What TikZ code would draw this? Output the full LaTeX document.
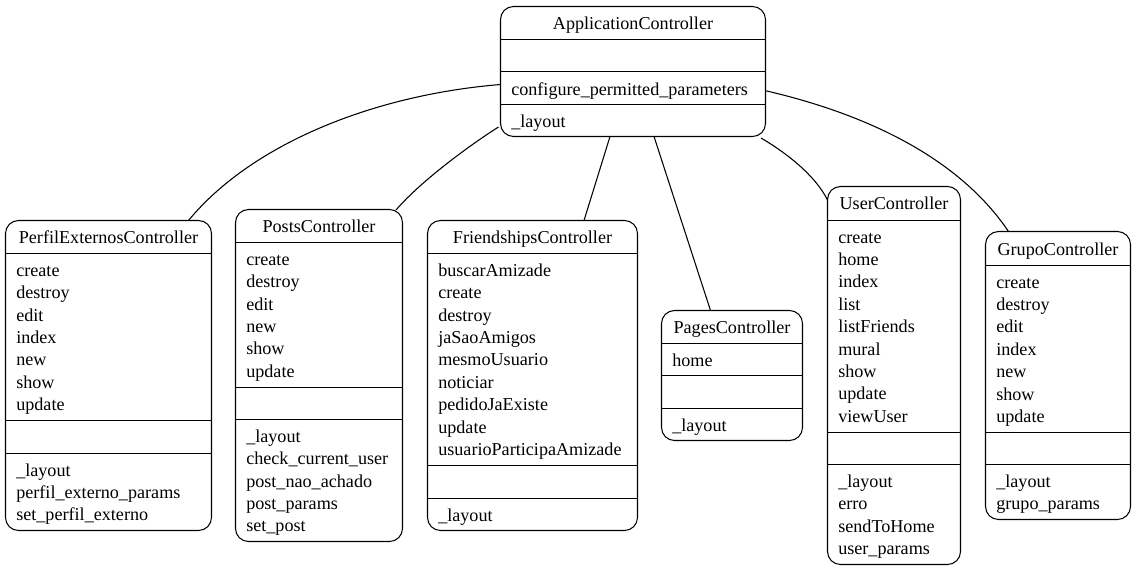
\documentclass[tikz,border=0pt]{standalone}
\usepackage{fontspec}
\setmainfont{Liberation Serif}
\usetikzlibrary{calc}
\tikzset{
  box/.style={draw, line width=0.8pt, rounded corners=9.75pt, inner sep=0pt, outer sep=0pt, fill=white},
  sepline/.style={line width=0.8pt},
  edge/.style={line width=0.8pt},
  lbl/.style={inner sep=0pt, font=\fontsize{13.6pt}{16.8pt}\selectfont},
}
\newcommand\ubox[5]{\node[box, anchor=north west, minimum width={(#4-#2)*0.75pt}, minimum height={(#5-#3)*0.75pt}] (#1) at (#2,#3) {};}
\newcommand\usep[3]{\draw[sepline] (#1,#3) -- (#2,#3);}
\newcommand\utitle[4]{\node[lbl, anchor=base] (#1) at (#2,#3) {#4};}
\newcommand\ulines[4]{\foreach \txt [count=\i] in {#4} {\node[lbl, anchor=base west] (#1-\i) at (#2,{#3+(\i-1)*22.4}) {\txt};}}
\begin{document}
\begin{tikzpicture}[x=0.75pt, y=-0.75pt]
\useasboundingbox (0,0) rectangle (1136,571);
\fill[white] (0,0) rectangle (1136,571);

% ApplicationController
\ubox{app}{500.5}{6.5}{765.5}{136.5}
\usep{500.5}{765.5}{39.5}
\usep{500.5}{765.5}{71.5}
\usep{500.5}{765.5}{104.5}
\utitle{app-t}{633}{29.5}{ApplicationController}
\ulines{app-a}{511}{95}{configure\_permitted\_parameters}
\ulines{app-p}{511}{127.8}{\_layout}

% PerfilExternosController
\ubox{perfil}{5.5}{220.5}{211.5}{530.5}
\usep{5.5}{211.5}{253.5}
\usep{5.5}{211.5}{420.5}
\usep{5.5}{211.5}{453.5}
\utitle{perfil-t}{108.5}{243.3}{PerfilExternosController}
\ulines{perfil-m}{16}{276.3}{create,destroy,edit,index,new,show,update}
\ulines{perfil-p}{16}{476}{\_layout,perfil\_externo\_params,set\_perfil\_externo}

% PostsController
\ubox{posts}{235.5}{209.5}{402.5}{541.5}
\usep{235.5}{402.5}{242.5}
\usep{235.5}{402.5}{387.5}
\usep{235.5}{402.5}{419.5}
\utitle{posts-t}{319}{232.5}{PostsController}
\ulines{posts-m}{246}{265.3}{create,destroy,edit,new,show,update}
\ulines{posts-p}{246}{442.3}{\_layout,check\_current\_user,post\_nao\_achado,post\_params,set\_post}

% FriendshipsController
\ubox{friend}{427.5}{220.5}{637.5}{530.5}
\usep{427.5}{637.5}{253.5}
\usep{427.5}{637.5}{465.5}
\usep{427.5}{637.5}{498.5}
\utitle{friend-t}{532.5}{243.7}{FriendshipsController}
\ulines{friend-m}{438}{276.3}{buscarAmizade,create,destroy,jaSaoAmigos,mesmoUsuario,noticiar,pedidoJaExiste,update,usuarioParticipaAmizade}
\ulines{friend-p}{438}{521}{\_layout}

% PagesController
\ubox{pages}{661.5}{310.5}{802.5}{440.5}
\usep{661.5}{802.5}{343.5}
\usep{661.5}{802.5}{375.5}
\usep{661.5}{802.5}{408.5}
\utitle{pages-t}{732}{333}{PagesController}
\ulines{pages-m}{672}{366.3}{home}
\ulines{pages-p}{672}{431.3}{\_layout}

% UserController
\ubox{user}{827.5}{186.5}{960.5}{564.5}
\usep{827.5}{960.5}{220.5}
\usep{827.5}{960.5}{432.5}
\usep{827.5}{960.5}{464.5}
\utitle{user-t}{894}{209.3}{UserController}
\ulines{user-m}{838}{243}{create,home,index,list,listFriends,mural,show,update,viewUser}
\ulines{user-p}{838}{487.3}{\_layout,erro,sendToHome,user\_params}

% GrupoController
\ubox{grupo}{985.5}{231.5}{1130.5}{519.5}
\usep{985.5}{1130.5}{265.5}
\usep{985.5}{1130.5}{432.5}
\usep{985.5}{1130.5}{464.5}
\utitle{grupo-t}{1058}{255}{GrupoController}
\ulines{grupo-m}{996}{288}{create,destroy,edit,index,new,show,update}
\ulines{grupo-p}{996}{487.3}{\_layout,grupo\_params}

% connectors
\draw[edge] ($(app.north west)+(0,78)$) .. controls +(-130,10.7) and +(61.7,-75) .. ($(perfil.north west)+(183,0)$);
\draw[edge] ($(app.north west)+(-2,120.5)$) .. controls +(-30.5,19.3) and +(24,-28) .. ($(posts.north west)+(160.5,0.5)$);
\draw[edge] ($(app.north west)+(109.5,130)$) -- ($(friend.north west)+(156.5,0)$);
\draw[edge] ($(app.north west)+(153.5,130)$) -- ($(pages.north west)+(49,0)$);
\draw[edge] ($(app.north west)+(260.5,131.5)$) .. controls +(24,14) and +(-12.3,-25) .. ($(user.north west)+(0,13.5)$);
\draw[edge] ($(app.north east)+(0,84.2)$) .. controls +(105,24.3) and +(-48.3,-71.7) .. ($(grupo.north west)+(23,0)$);
\end{tikzpicture}
\end{document}
